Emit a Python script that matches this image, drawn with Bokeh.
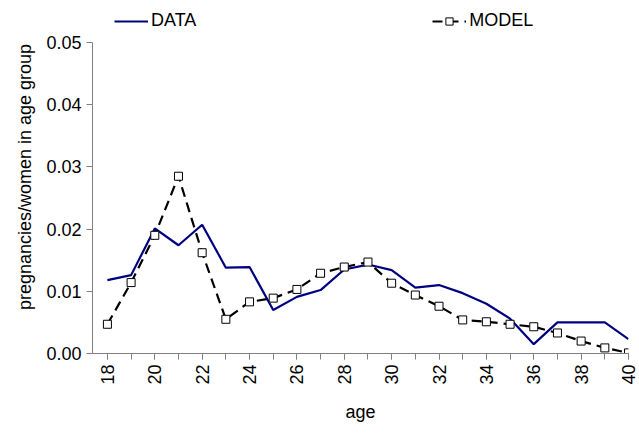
import math
from bokeh.plotting import figure
from bokeh.models import FixedTicker, NumeralTickFormatter, Legend, LegendItem
from bokeh.embed import file_html
from bokeh.resources import INLINE

ages = list(range(18, 41))
data_vals = [0.0118, 0.0126, 0.0201, 0.0174, 0.0207, 0.0138, 0.0139, 0.0070, 0.0091, 0.0102,
             0.0135, 0.0143, 0.0134, 0.0106, 0.0110, 0.0097, 0.0080, 0.0056, 0.0015, 0.0050,
             0.0050, 0.0050, 0.0023]
model_vals = [0.0047, 0.0114, 0.0190, 0.0285, 0.0162, 0.0055, 0.0083, 0.0089, 0.0103, 0.0129,
              0.0139, 0.0147, 0.0113, 0.0094, 0.0076, 0.0054, 0.0051, 0.0047, 0.0043, 0.0033,
              0.0020, 0.0009, 0.0001]
y_ticks = [0.0, 0.01, 0.02, 0.03, 0.04, 0.05]
x_ticks = list(range(18, 41, 2))

FONT = "Liberation Sans"

# extra headroom above 0.05 holds the legend; the y axis stops at 0.05
p = figure(frame_width=536, frame_height=353, x_range=(17.37, 40), y_range=(0, 0.05675),
           output_backend="svg", toolbar_location=None,
           min_border_left=92, min_border_right=10, min_border_top=0, min_border_bottom=80)
p.outline_line_color = None
p.grid.visible = False
p.background_fill_color = "white"

r1 = p.line(ages, data_vals, line_color="#000080", line_width=2.2)
r2 = p.line(ages, model_vals, line_color="black", line_width=2.2, line_dash="10 6")
r3 = p.scatter(ages, model_vals, marker="square", size=8, fill_color="white",
               line_color="black", line_width=1)

p.xaxis.ticker = FixedTicker(ticks=x_ticks, minor_ticks=ages)
p.xaxis.major_label_orientation = math.pi / 2
p.yaxis.ticker = FixedTicker(ticks=y_ticks)
p.yaxis.bounds = (0, 0.05)
p.yaxis.formatter = NumeralTickFormatter(format="0.00")
p.xaxis.axis_label = "age"
p.yaxis.axis_label = "pregnancies/women in age group"
for ax in (p.xaxis, p.yaxis):
    ax.axis_line_color = "#808080"
    ax.major_tick_line_color = "#808080"
    ax.minor_tick_line_color = "#808080"
    ax.major_tick_out = 6
    ax.major_tick_in = 0
    ax.minor_tick_out = 6
    ax.minor_tick_in = 0
    ax.major_label_text_font = FONT
    ax.major_label_text_font_size = "18px"
    ax.major_label_text_color = "black"
    ax.axis_label_text_font = FONT
    ax.axis_label_text_font_size = "18px"
    ax.axis_label_text_font_style = "normal"
    ax.axis_label_text_color = "black"
p.yaxis.minor_tick_out = 0
p.xaxis.axis_label_standoff = 14
p.yaxis.axis_label_standoff = 8

legend = Legend(items=[LegendItem(label="DATA", renderers=[r1]),
                       LegendItem(label="MODEL", renderers=[r2, r3])],
                orientation="horizontal", location=(22, 322), spacing=236,
                border_line_color=None, background_fill_alpha=0,
                label_text_font=FONT, label_text_font_size="18px",
                label_text_color="black", label_height=18, glyph_height=18,
                glyph_width=34, padding=0, margin=0, label_standoff=3)
p.add_layout(legend, "center")

open("out.html", "w").write(file_html(p, INLINE))
